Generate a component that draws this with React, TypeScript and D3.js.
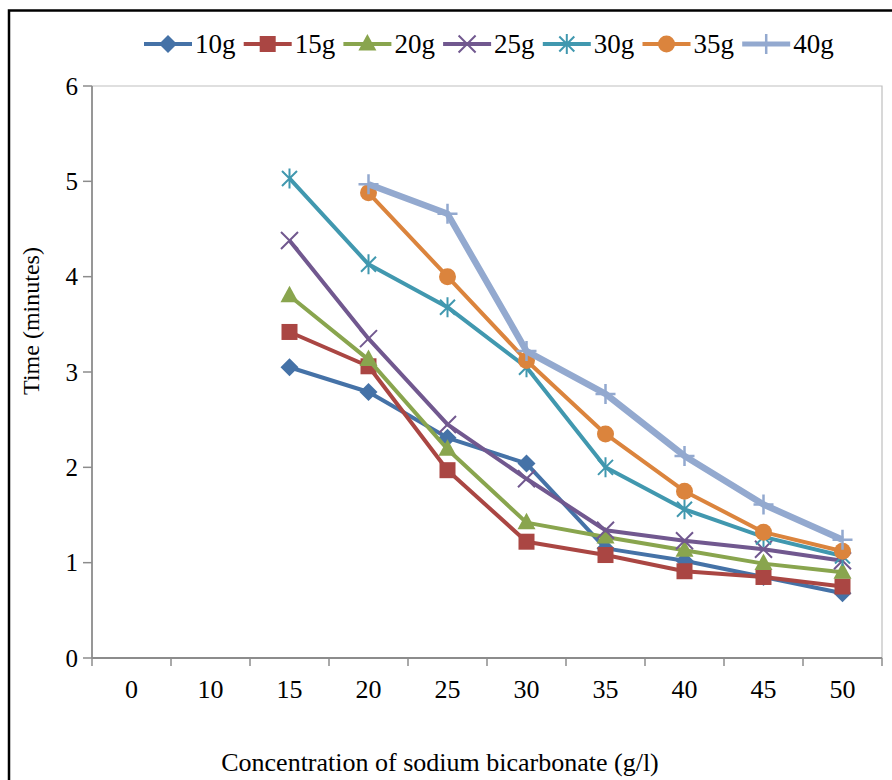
import React from 'react';
import * as d3 from 'd3';

const categories = ['0', '10', '15', '20', '25', '30', '35', '40', '45', '50'];
const seriesNames = ['10g', '15g', '20g', '25g', '30g', '35g', '40g'];
const yTicks = [0, 1, 2, 3, 4, 5, 6];

const s10g = [null, null, 3.05, 2.79, 2.31, 2.04, 1.15, 1.02, 0.85, 0.68];
const s15g = [null, null, 3.42, 3.06, 1.97, 1.22, 1.08, 0.91, 0.85, 0.75];
const s20g = [null, null, 3.80, 3.13, 2.19, 1.42, 1.27, 1.13, 0.99, 0.90];
const s25g = [null, null, 4.38, 3.35, 2.45, 1.88, 1.34, 1.23, 1.14, 1.02];
const s30g = [null, null, 5.03, 4.13, 3.68, 3.05, 2.00, 1.56, 1.27, 1.07];
const s35g = [null, null, null, 4.88, 4.00, 3.12, 2.35, 1.75, 1.32, 1.12];
const s40g = [null, null, null, 4.97, 4.66, 3.22, 2.77, 2.12, 1.61, 1.24];

const seriesValues = [s10g, s15g, s20g, s25g, s30g, s35g, s40g];

const colors = ['#4572A7', '#AA4643', '#89A54E', '#71588F', '#4198AF', '#DB843D', '#93A9CF'];
const markerTypes = ['diamond', 'square', 'triangle', 'x', 'asterisk', 'circle', 'plus'];
const lineWidths = [4, 4, 4, 4, 4, 4, 6.5];

const W = 892;
const H = 780;
const M = { left: 92, right: 882, top: 86, bottom: 658 };
const FONT = '"Liberation Serif", "Times New Roman", serif';

function Marker({ type, x, y, color }: { type: string; x: number; y: number; color: string }) {
  const r = 9;
  switch (type) {
    case 'diamond':
      return <path d={`M${x},${y - r}L${x + r},${y}L${x},${y + r}L${x - r},${y}Z`} fill={color} />;
    case 'square':
      return <rect x={x - 8} y={y - 8} width={16} height={16} fill={color} />;
    case 'triangle':
      return <path d={`M${x},${y - 10}L${x + 9},${y + 6.5}L${x - 9},${y + 6.5}Z`} fill={color} />;
    case 'circle':
      return <circle cx={x} cy={y} r={8.5} fill={color} />;
    case 'x':
      return (
        <path d={`M${x - 8.5},${y - 8.5}L${x + 8.5},${y + 8.5}M${x - 8.5},${y + 8.5}L${x + 8.5},${y - 8.5}`} stroke={color} strokeWidth={2} fill="none" />
      );
    case 'asterisk':
      return (
        <path
          d={`M${x - 7.5},${y - 7.5}L${x + 7.5},${y + 7.5}M${x - 7.5},${y + 7.5}L${x + 7.5},${y - 7.5}M${x},${y - 10}L${x},${y + 10}`}
          stroke={color}
          strokeWidth={2}
          fill="none"
        />
      );
    case 'plus':
      return (
        <path d={`M${x - 10},${y}L${x + 10},${y}M${x},${y - 10}L${x},${y + 10}`} stroke={color} strokeWidth={2.5} fill="none" />
      );
    default:
      return null;
  }
}

export default function App() {
  const x = d3.scaleBand<string>().domain(categories).range([M.left, M.right]).padding(0);
  const y = d3.scaleLinear().domain([0, 6]).range([M.bottom, M.top]);
  const cx = (c: string) => (x(c) as number) + x.bandwidth() / 2;

  const line = d3
    .line<number | null>()
    .defined((d) => d !== null)
    .x((_, i) => cx(categories[i]))
    .y((d) => y(d as number));

  const legendStart = 168;
  const legendStep = 99.7;
  const legendY = 44;

  return (
    <svg width={W} height={H} style={{ position: 'absolute', left: 0, top: 0, background: '#fff' }} fontFamily={FONT}>
      <rect x={0} y={0} width={W} height={H} fill="#fff" />
      <path d={`M9,${H + 5}L9,10.5L${W + 5},10.5`} stroke="#000" strokeWidth={2.5} fill="none" />

      {/* plot area border */}
      <path d={`M${M.left},${M.top}L${M.right},${M.top}L${M.right},${M.bottom}`} stroke="#BFBFBF" strokeWidth={1.2} fill="none" />

      {/* y axis */}
      <line x1={M.left} x2={M.left} y1={M.top} y2={M.bottom} stroke="#8C8C8C" strokeWidth={1.8} />
      {yTicks.map((t) => (
        <g key={t}>
          <line x1={M.left - 9} x2={M.left} y1={y(t)} y2={y(t)} stroke="#8C8C8C" strokeWidth={1.5} />
          <text x={78} y={y(t)} dy="0.35em" textAnchor="end" fontSize={25} fill="#000">
            {t}
          </text>
        </g>
      ))}

      {/* x axis */}
      <line x1={M.left} x2={M.right} y1={M.bottom} y2={M.bottom} stroke="#8C8C8C" strokeWidth={1.8} />
      {categories.map((c) => (
        <line key={'t' + c} x1={x(c) as number} x2={x(c) as number} y1={M.bottom} y2={M.bottom + 8} stroke="#8C8C8C" strokeWidth={1.5} />
      ))}
      <line x1={M.right} x2={M.right} y1={M.bottom} y2={M.bottom + 8} stroke="#8C8C8C" strokeWidth={1.5} />
      {categories.map((c) => (
        <text key={'l' + c} x={cx(c)} y={698} textAnchor="middle" fontSize={26} fill="#000">
          {c}
        </text>
      ))}

      {/* axis titles */}
      <text x={440} y={771} textAnchor="middle" fontSize={26} fill="#000">
        Concentration of sodium bicarbonate (g/l)
      </text>
      <text transform={`translate(39,321) rotate(-90)`} textAnchor="middle" fontSize={24} fill="#000">
        Time (minutes)
      </text>

      {/* series */}
      {seriesValues.map((vals, si) => (
        <g key={seriesNames[si]}>
          <path d={line(vals) || ''} stroke={colors[si]} strokeWidth={lineWidths[si]} fill="none" strokeLinejoin="round" />
          {vals.map((v, i) =>
            v === null ? null : <Marker key={i} type={markerTypes[si]} x={cx(categories[i])} y={y(v)} color={colors[si]} />
          )}
        </g>
      ))}

      {/* legend */}
      {seriesNames.map((n, si) => {
        const mx = legendStart + si * legendStep;
        return (
          <g key={'lg' + n}>
            <line x1={mx - 24} x2={mx + 24} y1={legendY} y2={legendY} stroke={colors[si]} strokeWidth={lineWidths[si] > 5 ? 5 : 4} />
            <Marker type={markerTypes[si]} x={mx} y={legendY} color={colors[si]} />
            <text x={mx + 27} y={legendY} dy="0.35em" fontSize={27} fill="#000">
              {n}
            </text>
          </g>
        );
      })}
    </svg>
  );
}
